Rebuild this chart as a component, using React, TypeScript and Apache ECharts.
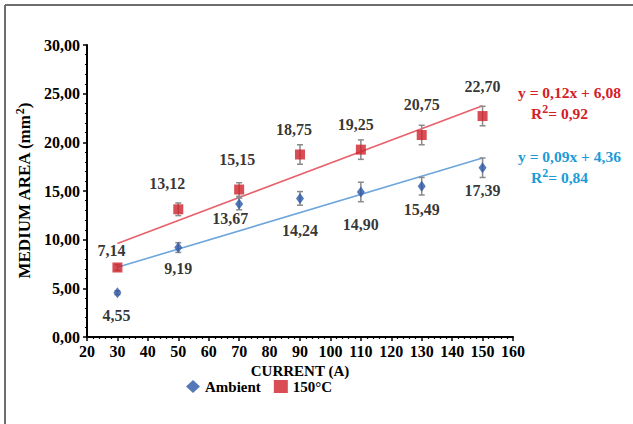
import React, { useEffect, useRef } from "react";
import * as echarts from "echarts";

const currents = [30, 50, 70, 90, 110, 130, 150];
const ambientArea = [4.55, 9.19, 13.67, 14.24, 14.9, 15.49, 17.39];
const hotArea = [7.14, 13.12, 15.15, 18.75, 19.25, 20.75, 22.7];
const ambientErr = [0.2, 0.5, 0.6, 0.7, 1.0, 0.9, 1.0];
const hotErr = [0.3, 0.65, 0.7, 1.0, 1.0, 1.0, 1.0];
const xTicks = [20, 30, 40, 50, 60, 70, 80, 90, 100, 110, 120, 130, 140, 150, 160];
const yTicks = [0, 5, 10, 15, 20, 25, 30];
const hotEquation = ["y = 0,12x + 6,08", "0,92"];
const ambientEquation = ["y = 0,09x + 4,36", "0,84"];

// label placement (layout only)
const hotLabelOffsets = [[-6, -17], [-11, -26], [-2, -30], [-6, -25], [-5, -25], [0, -31], [0, -30]];
const ambientLabelOffsets = [[-1, 23], [0, 21], [-9, 15], [0, 32], [0, 33], [0, 23], [0, 23]];

const FONT = "'Liberation Serif', 'Times New Roman', serif";

function fit(xs: number[], ys: number[]) {
  const n = xs.length;
  const mx = xs.reduce((a, b) => a + b, 0) / n;
  const my = ys.reduce((a, b) => a + b, 0) / n;
  let sxy = 0, sxx = 0;
  for (let i = 0; i < n; i++) {
    sxy += (xs[i] - mx) * (ys[i] - my);
    sxx += (xs[i] - mx) * (xs[i] - mx);
  }
  const b = sxy / sxx;
  const a = my - b * mx;
  return (x: number) => a + b * x;
}

const fmt = (v: number) => v.toFixed(2).replace(".", ",");

export default function App() {
  const ref = useRef<HTMLDivElement>(null);
  useEffect(() => {
    if (!ref.current) return;
    const chart = echarts.init(ref.current, undefined, { renderer: "svg" });
    const fHot = fit(currents, hotArea);
    const fAmb = fit(currents, ambientArea);
    const x0 = currents[0];
    const x1 = currents[currents.length - 1];

    const errSeries = (name: string, ys: number[], errs: number[]) => ({
      type: "custom",
      name: name,
      z: 3,
      silent: true,
      data: currents.map((x, i) => [x, ys[i], errs[i]]),
      encode: { x: 0, y: 1 },
      renderItem: (params: any, api: any) => {
        const x = api.value(0);
        const y = api.value(1);
        const e = api.value(2);
        const t = api.coord([x, y + e]);
        const b = api.coord([x, y - e]);
        const st = { stroke: "#8a8a8a", lineWidth: 1.5 };
        return {
          type: "group",
          children: [
            { type: "line", shape: { x1: t[0], y1: t[1], x2: b[0], y2: b[1] }, style: st },
            { type: "line", shape: { x1: t[0] - 3, y1: t[1], x2: t[0] + 3, y2: t[1] }, style: st },
            { type: "line", shape: { x1: b[0] - 3, y1: b[1], x2: b[0] + 3, y2: b[1] }, style: st },
          ],
        };
      },
    });

    const labelStyle = {
      show: true,
      position: "inside",
      color: "#000",
      fontFamily: FONT,
      fontWeight: "bold",
      fontSize: 16,
    };

    const eqRich = (color: string) => ({
      a: { fontFamily: FONT, fontWeight: "bold", fontSize: 15.5, fill: color, lineHeight: 20 },
      s: { fontFamily: FONT, fontWeight: "bold", fontSize: 12, fill: color, verticalAlign: "top", padding: [0, 0, 6, 0] },
    });

    chart.setOption({
      animation: false,
      backgroundColor: "#fff",
      grid: { left: 87, right: 120, top: 45, bottom: 87, containLabel: false },
      legend: {
        left: 181,
        top: 374,
        itemWidth: 14,
        itemHeight: 13,
        itemGap: 13,
        textStyle: { fontFamily: FONT, fontWeight: "bold", fontSize: 15, color: "#000" },
        data: [
          { name: "Ambient", icon: "diamond", itemStyle: { color: "#2a56a8" } },
          { name: "150°C", icon: "rect", itemStyle: { color: "#d0202a" } },
        ],
      },
      xAxis: {
        type: "value",
        min: xTicks[0],
        max: xTicks[xTicks.length - 1],
        interval: 10,
        name: "CURRENT (A)",
        nameLocation: "middle",
        nameGap: 21,
        nameTextStyle: { fontFamily: FONT, fontWeight: "bold", fontSize: 15, color: "#000" },
        axisLine: { lineStyle: { color: "#000", width: 2 } },
        axisTick: { show: true, length: 4, lineStyle: { color: "#000", width: 1.5 } },
        minorTick: { show: true, splitNumber: 5, length: 2, lineStyle: { color: "#000", width: 1.2 } },
        splitLine: { show: false },
        axisLabel: {
          margin: 6,
          fontFamily: FONT,
          fontWeight: "bold",
          fontSize: 16,
          color: "#000",
          formatter: (v: number) => String(v),
        },
      },
      yAxis: {
        type: "value",
        min: yTicks[0],
        max: yTicks[yTicks.length - 1],
        interval: 5,
        name: "{a|MEDIUM AREA (mm}{s|2}{a|)}",
        nameLocation: "middle",
        nameRotate: 90,
        nameGap: 44,
        nameTextStyle: {
          rich: {
            a: { fontFamily: FONT, fontWeight: "bold", fontSize: 17, color: "#000", lineHeight: 22 },
            s: { fontFamily: FONT, fontWeight: "bold", fontSize: 12, color: "#000", lineHeight: 22, verticalAlign: "top" },
          },
        },
        axisLine: { show: true, lineStyle: { color: "#000", width: 2 } },
        axisTick: { show: true, length: 4, lineStyle: { color: "#000", width: 1.5 } },
        minorTick: { show: true, splitNumber: 5, length: 2, lineStyle: { color: "#000", width: 1.2 } },
        splitLine: { show: false },
        axisLabel: {
          margin: 7,
          fontFamily: FONT,
          fontWeight: "bold",
          fontSize: 16,
          color: "#000",
          formatter: (v: number) => fmt(v),
        },
      },
      graphic: [
        { type: "line", shape: { x1: 5, y1: 5, x2: 5, y2: 424 }, style: { stroke: "#6e6e6e", lineWidth: 2 } },
        { type: "line", shape: { x1: 5, y1: 5, x2: 633, y2: 5 }, style: { stroke: "#6e6e6e", lineWidth: 2 } },
        {
          type: "text", left: 518, top: 84,
          style: { text: `{a|${hotEquation[0]}}`, rich: eqRich("#d42027") },
        },
        {
          type: "text", left: 531, top: 103,
          style: { text: `{a|R}{s|2}{a|= ${hotEquation[1]}}`, rich: eqRich("#d42027") },
        },
        {
          type: "text", left: 518, top: 148,
          style: { text: `{a|${ambientEquation[0]}}`, rich: eqRich("#1b9bd7") },
        },
        {
          type: "text", left: 531, top: 167,
          style: { text: `{a|R}{s|2}{a|= ${ambientEquation[1]}}`, rich: eqRich("#1b9bd7") },
        },
      ],
      series: [
        {
          type: "line",
          name: "trendHot",
          z: 2,
          silent: true,
          symbol: "none",
          lineStyle: { color: "#e8606a", width: 1.6 },
          data: [[x0, fHot(x0)], [x1, fHot(x1)]],
        },
        {
          type: "line",
          name: "trendAmb",
          z: 2,
          silent: true,
          symbol: "none",
          lineStyle: { color: "#6ea6dc", width: 1.6 },
          data: [[x0, fAmb(x0)], [x1, fAmb(x1)]],
        },
        errSeries("errHot", hotArea, hotErr),
        errSeries("errAmb", ambientArea, ambientErr),
        {
          type: "scatter",
          name: "150°C",
          z: 4,
          symbol: "rect",
          symbolSize: 10,
          itemStyle: { color: "#d0202a" },
          data: currents.map((x, i) => ({
            value: [x, hotArea[i]],
            label: { ...labelStyle, offset: hotLabelOffsets[i], formatter: fmt(hotArea[i]) },
          })),
        },
        {
          type: "scatter",
          name: "Ambient",
          z: 4,
          symbol: "diamond",
          symbolSize: [8, 11],
          itemStyle: { color: "#2a56a8" },
          data: currents.map((x, i) => ({
            value: [x, ambientArea[i]],
            label: { ...labelStyle, offset: ambientLabelOffsets[i], formatter: fmt(ambientArea[i]) },
          })),
        },
      ],
    });
    return () => chart.dispose();
  }, []);
  return (
    <div
      ref={ref}
      style={{ position: "fixed", left: 0, top: 0, width: 633, height: 424 }}
    />
  );
}
